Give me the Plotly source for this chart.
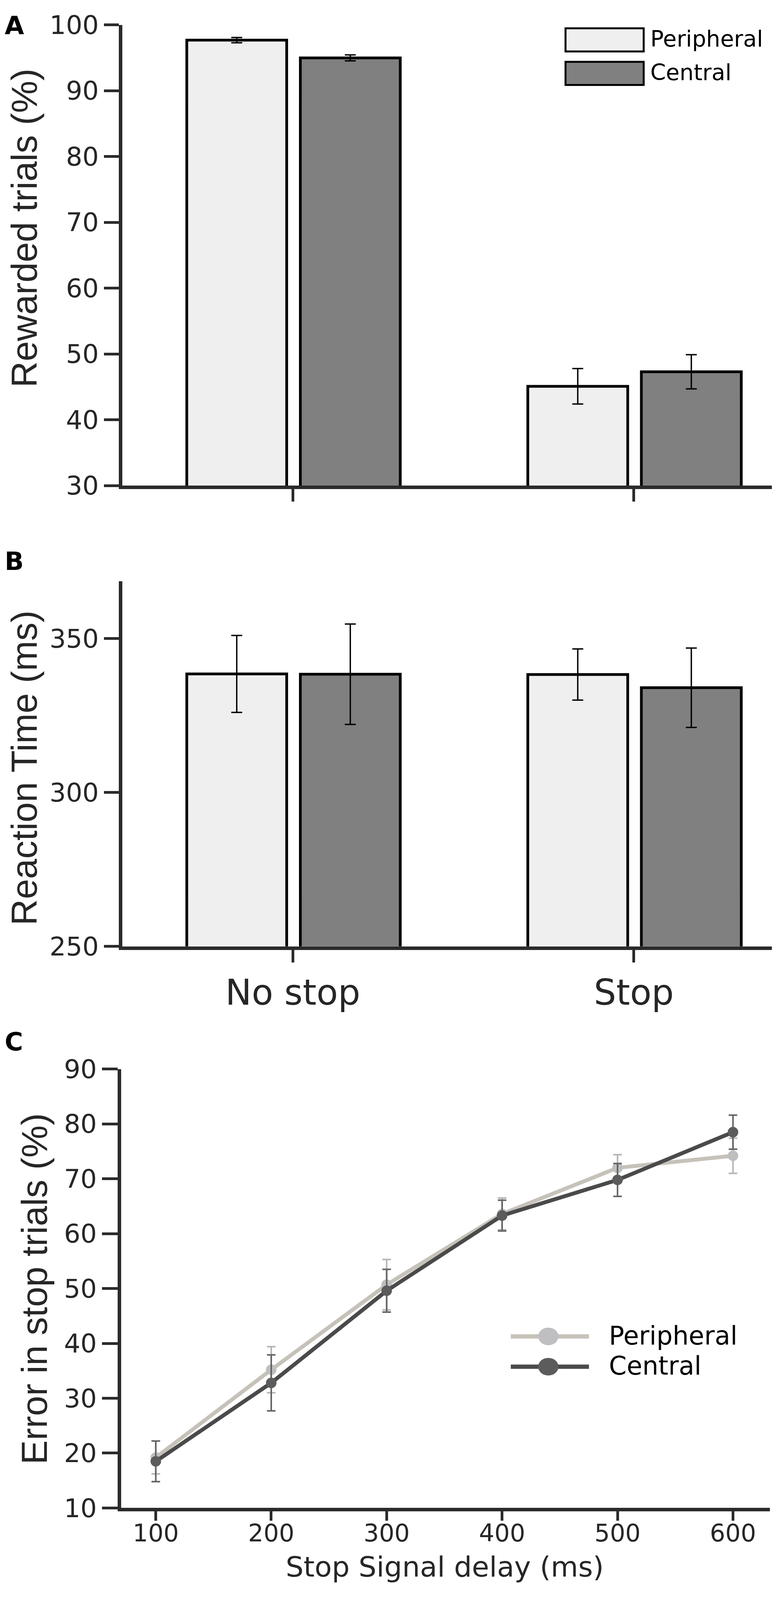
import plotly.graph_objects as go

# ---------------- data ----------------
conditions = ["No stop", "Stop"]
groups = ["Peripheral", "Central"]

rewarded_peripheral = [97.7, 45.1]
rewarded_peripheral_err = [0.4, 2.7]
rewarded_central = [95.0, 47.3]
rewarded_central_err = [0.45, 2.6]

rt_peripheral = [338.5, 338.3]
rt_peripheral_err = [12.5, 8.3]
rt_central = [338.4, 334.0]
rt_central_err = [16.3, 12.9]

ssd = [100, 200, 300, 400, 500, 600]
err_peripheral = [19.2, 35.2, 50.7, 63.6, 72.0, 74.2]
err_peripheral_sem = [3.0, 4.2, 4.6, 2.9, 2.4, 3.2]
err_central = [18.5, 32.8, 49.6, 63.3, 69.8, 78.5]
err_central_sem = [3.7, 5.1, 3.9, 2.8, 3.0, 3.1]

# ---------------- geometry ----------------
# Reference is 1983 x 4682; the visible browser area is 1983 x 4096 with an
# 8px body margin, so the reference layout is mapped into that visible area.
REF_W, REF_H = 1983, 4682
VIEW_H = 4096
BODY = 8
SY = VIEW_H / REF_H
FW = REF_W - BODY
FH = VIEW_H - BODY


def X(rx):
    return (rx - BODY) / FW


def Y(ry):
    return 1 - (ry * SY - BODY) / FH


def Yp(page_y):
    return 1 - (page_y - BODY) / FH


# ---------------- styling ----------------
FONT_H = "DejaVu Sans, Verdana, sans-serif"       # horizontal texts
FONT_V = "Liberation Sans, Arial, sans-serif"     # rotated axis titles
AX = "#2b2b2b"
TXT = "#262626"
BAR_LIGHT = "#efefef"
BAR_DARK = "#808080"
LINE_P = "#c6c2ba"
MARK_P = "#bfbfc1"
EBAR_P = "#b5b5b5"
LINE_C = "#4a4a4a"
MARK_C = "#5c5c5c"
EBAR_C = "#646464"

TICK_FONT = 66

fig = go.Figure()

bar_w = 0.293
off_p = -0.311
off_c = 0.022


def bar(xs, ys, errs, name, color, xa, ya):
    return go.Bar(x=xs, y=ys, name=name,
                  marker=dict(color=color, line=dict(color="black", width=7)),
                  width=bar_w, offset=off_p if name == groups[0] else off_c,
                  error_y=dict(type="data", array=errs, color="black", thickness=3.5, width=14),
                  xaxis=xa, yaxis=ya, showlegend=False)


fig.add_trace(bar(conditions, rewarded_peripheral, rewarded_peripheral_err, groups[0], BAR_LIGHT, "x", "y"))
fig.add_trace(bar(conditions, rewarded_central, rewarded_central_err, groups[1], BAR_DARK, "x", "y"))
fig.add_trace(bar(conditions, rt_peripheral, rt_peripheral_err, groups[0], BAR_LIGHT, "x2", "y2"))
fig.add_trace(bar(conditions, rt_central, rt_central_err, groups[1], BAR_DARK, "x2", "y2"))

fig.add_trace(go.Scatter(x=ssd, y=err_peripheral, name=groups[0], mode="lines+markers",
                         line=dict(color=LINE_P, width=10),
                         marker=dict(color=MARK_P, size=27),
                         error_y=dict(type="data", array=err_peripheral_sem, color=EBAR_P,
                                      thickness=4, width=11),
                         xaxis="x3", yaxis="y3", showlegend=False))
fig.add_trace(go.Scatter(x=ssd, y=err_central, name=groups[1], mode="lines+markers",
                         line=dict(color=LINE_C, width=10),
                         marker=dict(color=MARK_C, size=27),
                         error_y=dict(type="data", array=err_central_sem, color=EBAR_C,
                                      thickness=4, width=11),
                         xaxis="x3", yaxis="y3", showlegend=False))

axis_common = dict(showline=True, linecolor=AX, linewidth=9, ticks="outside",
                   tickcolor=AX, tickwidth=7, ticklen=38, showgrid=False, zeroline=False,
                   tickfont=dict(family=FONT_H, size=TICK_FONT, color=TXT))

fig.update_layout(
    width=FW, height=FH,
    margin=dict(l=0, r=0, t=0, b=0),
    paper_bgcolor="white", plot_bgcolor="white",
    barmode="group",
    font=dict(family=FONT_H, color=TXT),
    showlegend=False,
    xaxis=dict(axis_common, domain=[X(313), X(1977)], anchor="y", type="category",
               categoryorder="array", categoryarray=conditions, ticklen=32,
               range=[-0.5, 1.407], showticklabels=False),
    yaxis=dict(axis_common, domain=[Y(1404), Y(30)], anchor="x", range=[30, 100],
               tickvals=[30, 40, 50, 60, 70, 80, 90, 100]),
    xaxis2=dict(axis_common, domain=[X(313), X(1977)], anchor="y2", type="category",
                categoryorder="array", categoryarray=conditions, ticklen=32,
                range=[-0.5, 1.407], tickfont=dict(family=FONT_H, size=90, color=TXT)),
    yaxis2=dict(axis_common, domain=[Y(2778), Y(1689)], anchor="x2", range=[250, 368.6],
                tickvals=[250, 300, 350]),
    xaxis3=dict(axis_common, domain=[X(310), X(1970)], anchor="y3", range=[70, 632],
                tickvals=ssd, ticklen=24, ticklabelstandoff=-22,
                tickfont=dict(family=FONT_H, size=62, color=TXT)),
    yaxis3=dict(axis_common, domain=[Y(4453), Y(3144)], anchor="x3", range=[10, 90],
                tickvals=[10, 20, 30, 40, 50, 60, 70, 80, 90], ticklen=40),
)

ann = []
for letter, yc in [("A", 32), ("B", 1630), ("C", 3063)]:
    ann.append(dict(text="<b>%s</b>" % letter, x=X(10), y=Y(yc), xref="paper", yref="paper",
                    xanchor="left", yanchor="middle", showarrow=False,
                    font=dict(family=FONT_H, size=64, color="black")))
for title, xc, yc in [("Rewarded trials (%)", 62, 636),
                      ("Reaction Time (ms)", 62, 2246),
                      ("Error in stop trials (%)", 88, 3800)]:
    ann.append(dict(text=title, x=X(xc), y=Y(yc), xref="paper", yref="paper",
                    xanchor="center", yanchor="middle", textangle=-90, showarrow=False,
                    font=dict(family=FONT_V, size=93, color=TXT)))
# x-axis title of panel C, placed against the bottom of the visible area
ann.append(dict(text="Stop Signal delay (ms)", x=X(1138), y=2 / FH, xref="paper", yref="paper",
                xanchor="center", yanchor="bottom", showarrow=False,
                font=dict(family=FONT_H, size=72, color=TXT)))

shapes = []
# legend of panel A
for (y0, y1, col, label, yc) in [(40, 109, BAR_LIGHT, groups[0], 71),
                                 (140, 209, BAR_DARK, groups[1], 171)]:
    shapes.append(dict(type="rect", xref="paper", yref="paper",
                       x0=X(1447), x1=X(1647), y0=Y(y1), y1=Y(y0),
                       fillcolor=col, line=dict(color="black", width=5)))
    ann.append(dict(text=label, x=X(1662), y=Y(yc), xref="paper", yref="paper",
                    xanchor="left", yanchor="middle", showarrow=False,
                    font=dict(family=FONT_H, size=57, color="black")))

# legend of panel C (page coordinates of the visible area)
for (yc, lcol, mcol, label) in [(3448, LINE_P, MARK_P, groups[0]),
                                (3527, LINE_C, MARK_C, groups[1])]:
    shapes.append(dict(type="line", xref="paper", yref="paper",
                       x0=X(1307), x1=X(1507), y0=Yp(yc), y1=Yp(yc),
                       line=dict(color=lcol, width=11)))
    shapes.append(dict(type="circle", xref="paper", yref="paper",
                       x0=X(1377), x1=X(1429), y0=Yp(yc + 23), y1=Yp(yc - 23),
                       fillcolor=mcol, line=dict(color=mcol, width=0)))
    ann.append(dict(text=label, x=X(1556), y=Yp(yc - 2), xref="paper", yref="paper",
                    xanchor="left", yanchor="middle", showarrow=False,
                    font=dict(family=FONT_H, size=65, color="black")))

fig.update_layout(annotations=ann, shapes=shapes)
fig.write_html("out.html")
